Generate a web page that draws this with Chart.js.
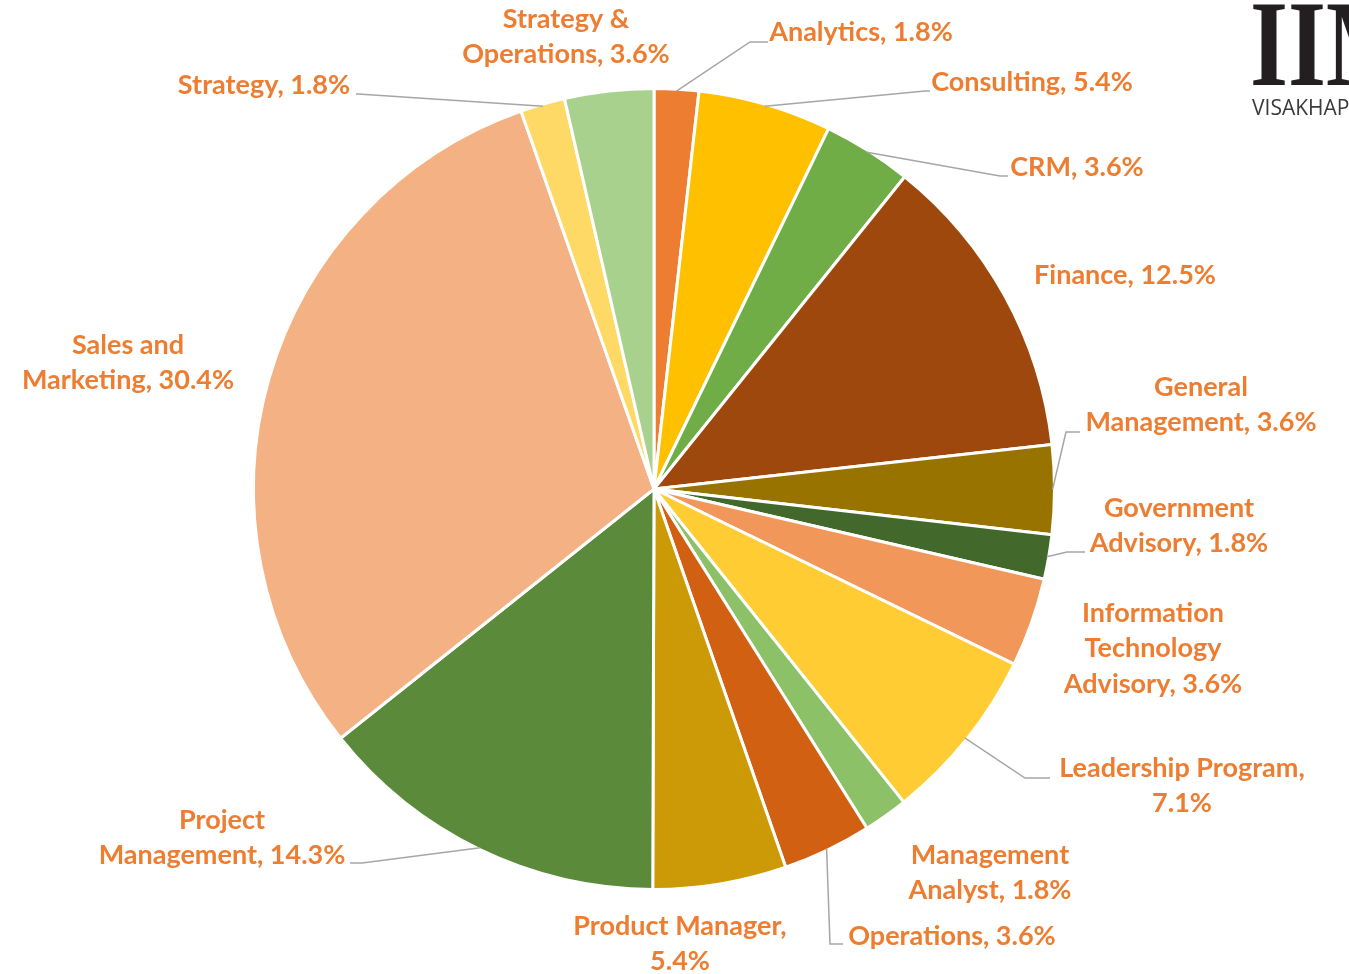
<!DOCTYPE html>
<html>
<head>
<meta charset="utf-8">
<script src="https://cdn.jsdelivr.net/npm/chart.js@4/dist/chart.umd.min.js"></script>
<style>
  html, body { margin: 0; padding: 0; background: #fff; }
  canvas { display: block; }
</style>
</head>
<body>
<canvas id="chart" width="1349" height="974"></canvas>
<script>
// data, clockwise from 12 o'clock
var categories = ['Analytics', 'Consulting', 'CRM', 'Finance', 'General Management',
  'Government Advisory', 'Information Technology Advisory', 'Leadership Program',
  'Management Analyst', 'Operations', 'Product Manager', 'Project Management',
  'Sales and Marketing', 'Strategy', 'Strategy & Operations'];
var shares = [1.8, 5.4, 3.6, 12.5, 3.6, 1.8, 3.6, 7.1, 1.8, 3.6, 5.4, 14.3, 30.4, 1.8, 3.6];
var sliceColors = ['#ED7D31', '#FFC000', '#70AD47', '#9E480E', '#997300',
  '#43682B', '#F1975A', '#FFCD33', '#8CC168', '#D26012',
  '#CC9A06', '#5B8A3B', '#F4B183', '#FFD966', '#A9D18E'];

// label text lines
var labelLines = [
  ['Analytics, 1.8%'],
  ['Consulting, 5.4%'],
  ['CRM, 3.6%'],
  ['Finance, 12.5%'],
  ['General', 'Management, 3.6%'],
  ['Government', 'Advisory, 1.8%'],
  ['Information', 'Technology', 'Advisory, 3.6%'],
  ['Leadership Program,', '7.1%'],
  ['Management', 'Analyst, 1.8%'],
  ['Operations, 3.6%'],
  ['Product Manager,', '5.4%'],
  ['Project', 'Management, 14.3%'],
  ['Sales and', 'Marketing, 30.4%'],
  ['Strategy, 1.8%'],
  ['Strategy &', 'Operations, 3.6%']
];

// label placement (centre x, first line y) and leader line bends
var labelPos = [
  {x: 861, y: 32, leader: [[750, 42], [768, 42]]},
  {x: 1032, y: 82, leader: [[925, 91], [930, 91]]},
  {x: 1077, y: 167, leader: [[1000, 176], [1008, 176]]},
  {x: 1125, y: 275},
  {x: 1201, y: 387, leader: [[1066, 432], [1080, 432]]},
  {x: 1179, y: 508, leader: [[1067, 552], [1085, 552]]},
  {x: 1153, y: 613},
  {x: 1182, y: 768, leader: [[1025, 778], [1050, 778]]},
  {x: 990, y: 855},
  {x: 952, y: 936, leader: [[830, 944], [843, 944]]},
  {x: 680, y: 926},
  {x: 222, y: 820, leader: [[362, 863], [350, 863]]},
  {x: 128, y: 345},
  {x: 264, y: 85, leader: [[358, 94], [356, 94]]},
  {x: 566, y: 19}
];

var LINE_H = 35.5;
var LABEL_FONT = 'bold 27px Lato, "Open Sans", sans-serif';
var LABEL_COLOR = '#ED7D31';

var outsideLabels = {
  id: 'outsideLabels',
  afterDraw: function(chart) {
    var ctx = chart.ctx;
    var meta = chart.getDatasetMeta(0);
    ctx.save();
    // leader lines
    ctx.strokeStyle = '#A6A6A6';
    ctx.lineWidth = 1.5;
    meta.data.forEach(function(arc, i) {
      var p = labelPos[i];
      if (!p.leader) return;
      var mid = (arc.startAngle + arc.endAngle) / 2;
      var sx = arc.x + Math.cos(mid) * (arc.outerRadius - 2);
      var sy = arc.y + Math.sin(mid) * (arc.outerRadius - 2);
      ctx.beginPath();
      ctx.moveTo(sx, sy);
      p.leader.forEach(function(pt) { ctx.lineTo(pt[0], pt[1]); });
      ctx.stroke();
    });
    // text
    ctx.font = LABEL_FONT;
    ctx.fillStyle = LABEL_COLOR;
    ctx.textAlign = 'center';
    ctx.textBaseline = 'middle';
    labelLines.forEach(function(lines, i) {
      var p = labelPos[i];
      lines.forEach(function(t, k) {
        ctx.fillText(t, p.x, p.y + k * LINE_H);
      });
    });
    // logo, cut off at the right edge
    ctx.textAlign = 'left';
    ctx.textBaseline = 'alphabetic';
    ctx.fillStyle = '#231F20';
    ctx.save();
    ctx.translate(1250, 85);
    ctx.scale(0.8, 1);
    ctx.font = 'bold 122px "Liberation Serif", "DejaVu Serif", serif';
    ctx.fillText('IIM', 0, 0);
    ctx.restore();
    ctx.fillStyle = '#3A3A3A';
    ctx.font = '21px "Open Sans", "Liberation Sans", sans-serif';
    ctx.fillText('VISAKHAPATNAM', 1252, 115);
    ctx.restore();
  }
};

new Chart(document.getElementById('chart'), {
  type: 'pie',
  data: {
    labels: categories,
    datasets: [{
      data: shares,
      backgroundColor: sliceColors,
      borderColor: '#FFFFFF',
      borderWidth: 3
    }]
  },
  options: {
    responsive: false,
    animation: false,
    layout: {padding: {top: 87, bottom: 83, left: 252, right: 293}},
    plugins: {
      legend: {display: false},
      tooltip: {enabled: false}
    }
  },
  plugins: [outsideLabels]
});
</script>
</body>
</html>
